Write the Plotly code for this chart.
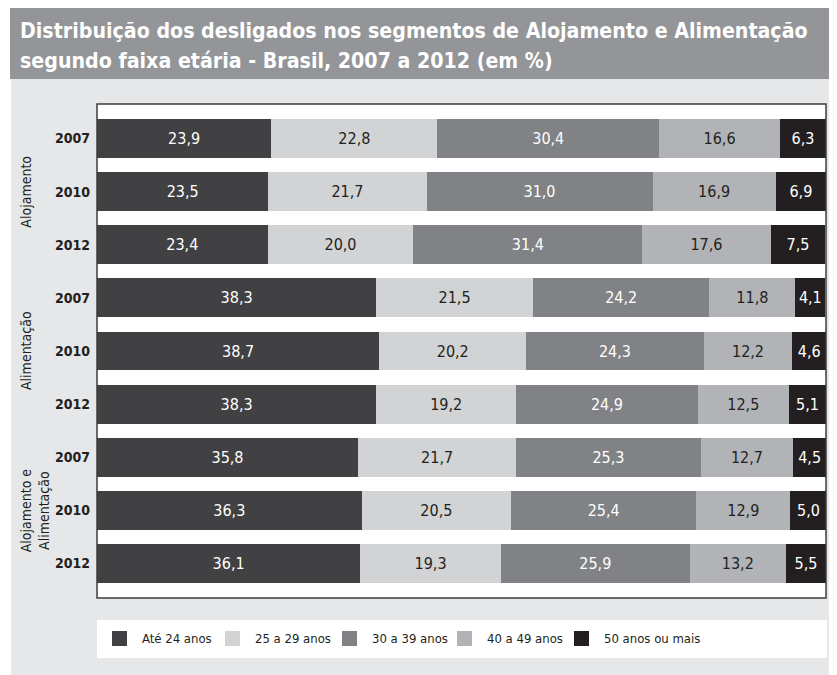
import plotly.graph_objects as go

# ---------------- data ----------------
groups = ["Alojamento", "Alimentação", "Alojamento e<br>Alimentação"]
years = ["2007", "2010", "2012"]
series = ["Até 24 anos", "25 a 29 anos", "30 a 39 anos", "40 a 49 anos", "50 anos ou mais"]

ate_24 = [23.9, 23.5, 23.4, 38.3, 38.7, 38.3, 35.8, 36.3, 36.1]
de_25_29 = [22.8, 21.7, 20.0, 21.5, 20.2, 19.2, 21.7, 20.5, 19.3]
de_30_39 = [30.4, 31.0, 31.4, 24.2, 24.3, 24.9, 25.3, 25.4, 25.9]
de_40_49 = [16.6, 16.9, 17.6, 11.8, 12.2, 12.5, 12.7, 12.9, 13.2]
mais_50 = [6.3, 6.9, 7.5, 4.1, 4.6, 5.1, 4.5, 5.0, 5.5]

title_lines = ["Distribuição dos desligados nos segmentos de Alojamento e Alimentação",
               "segundo faixa etária - Brasil, 2007 a 2012 (em %)"]

# ---------------- style ----------------
FONT = "DejaVu Sans Condensed, Liberation Sans Narrow, sans-serif"
bar_colors = ["#414042", "#d1d3d4", "#808285", "#b1b3b6", "#231f20"]
text_colors = ["#ffffff", "#231f20", "#ffffff", "#231f20", "#ffffff"]

OFF = 8                       # page body margin
W, H = 837 - OFF, 675 - OFF   # figure size
L, R, T, B = 97, 826, 104, 598  # plot area in page pixels


def pxx(p):
    return (p - L) / (R - L)


def pxy(p):
    return (B - p) / (B - T)


def fmt(v):
    return f"{v:.1f}".replace(".", ",")


rows = list(range(len(ate_24)))
all_series = [ate_24, de_25_29, de_30_39, de_40_49, mais_50]

fig = go.Figure()
for name, vals, col, tcol in zip(series, all_series, bar_colors, text_colors):
    fig.add_trace(go.Bar(
        x=vals, y=rows, orientation="h", name=name,
        marker=dict(color=col, line=dict(width=0)),
        width=0.734,
        text=[fmt(v) for v in vals],
        textposition="inside", insidetextanchor="middle", textangle=0,
        constraintext="none",
        textfont=dict(family=FONT, size=16, color=tcol),
        hoverinfo="skip", showlegend=False,
    ))

shapes = [
    # title bar
    dict(type="rect", xref="paper", yref="paper", x0=pxx(10), x1=pxx(837),
         y0=pxy(79), y1=pxy(7), fillcolor="#939598", line=dict(width=0), layer="below"),
    # light panel
    dict(type="rect", xref="paper", yref="paper", x0=pxx(11), x1=pxx(837),
         y0=pxy(675), y1=pxy(79), fillcolor="#e6e7e8", line=dict(width=0), layer="below"),
    # plot area
    dict(type="rect", xref="paper", yref="paper", x0=0, x1=1, y0=0, y1=1,
         fillcolor="#ffffff", line=dict(width=0), layer="below"),
    dict(type="rect", xref="paper", yref="paper", x0=0, x1=1, y0=0, y1=1,
         fillcolor="rgba(0,0,0,0)", line=dict(color="#3c3c3c", width=1.5), layer="above"),
    # legend box
    dict(type="rect", xref="paper", yref="paper", x0=pxx(97), x1=pxx(827),
         y0=pxy(658), y1=pxy(620), fillcolor="#ffffff", line=dict(width=0), layer="below"),
]

annotations = []
# title
for i, line in enumerate(title_lines):
    annotations.append(dict(
        xref="paper", yref="paper", x=pxx(18), y=pxy(30 + 30 * i),
        xanchor="left", yanchor="middle", showarrow=False, text=line,
        font=dict(family=FONT, size=21.2, color="#ffffff", weight="bold"),
    ))

# group labels
group_x = [26, 26, 35]
for gi, g in enumerate(groups):
    annotations.append(dict(
        xref="paper", yref="y", x=pxx(group_x[gi]), y=gi * 3 + 1,
        xanchor="center", yanchor="middle", showarrow=False, text=g,
        textangle=-90, font=dict(family=FONT, size=14, color="#231f20"),
    ))

# legend (manual, to match square sizes)
leg_sq_x = [112, 225, 342, 457, 574]
for name, col, sx in zip(series, bar_colors, leg_sq_x):
    shapes.append(dict(type="rect", xref="paper", yref="paper", x0=pxx(sx), x1=pxx(sx + 15),
                       y0=pxy(646), y1=pxy(631), fillcolor=col, line=dict(width=0), layer="above"))
    annotations.append(dict(
        xref="paper", yref="paper", x=pxx(sx + 28), y=pxy(638.5),
        xanchor="left", yanchor="middle", showarrow=False, text=name,
        font=dict(family=FONT, size=13, color="#231f20"),
    ))

fig.update_layout(
    width=W, height=H,
    margin=dict(l=L - OFF, r=W - (R - OFF), t=T - OFF, b=H - (B - OFF), pad=0),
    paper_bgcolor="#ffffff", plot_bgcolor="#ffffff",
    barmode="stack",
    showlegend=False,
    xaxis=dict(range=[0, 100], visible=False, fixedrange=True),
    yaxis=dict(range=[len(rows) - 1 + 0.65, -0.65], tickvals=rows, ticktext=years * 3,
               showgrid=False, zeroline=False, ticks="", ticklabelstandoff=6,
               tickfont=dict(family=FONT, size=14, color="#231f20", weight="bold"),
               fixedrange=True),
    shapes=shapes,
    annotations=annotations,
    font=dict(family=FONT),
)

fig.write_html("out.html")
